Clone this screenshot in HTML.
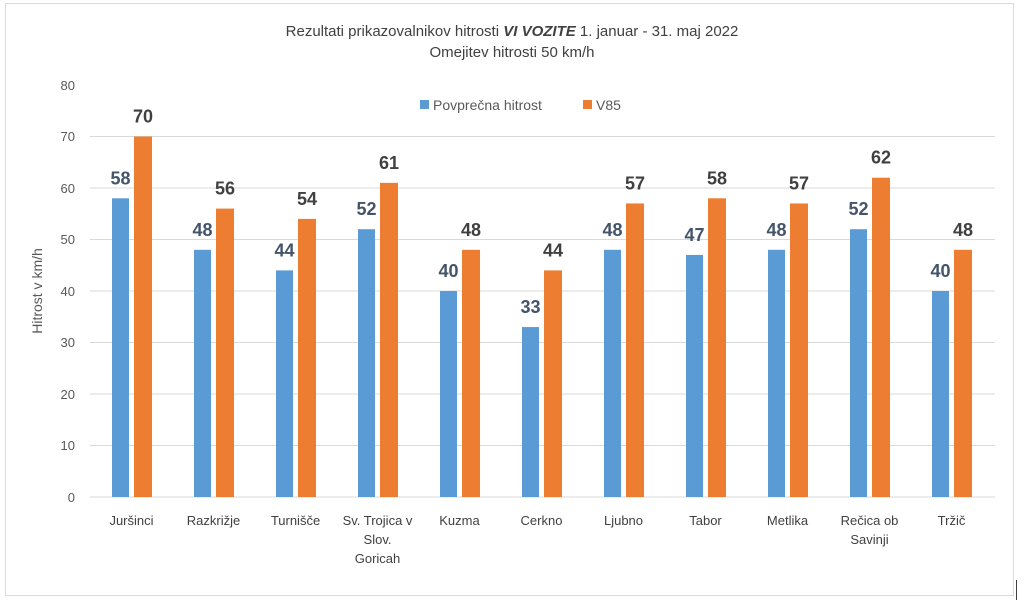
<!DOCTYPE html>
<html><head><meta charset="utf-8"><style>
html,body{margin:0;padding:0;background:#fff;}
svg{display:block;font-family:"Liberation Sans",sans-serif;}
</style></head><body>
<svg width="1024" height="601" viewBox="0 0 1024 601">
<rect x="5.5" y="3.5" width="1008" height="592" fill="#fff" stroke="#d9d9d9" stroke-width="1"/>
<line x1="1016.5" y1="580" x2="1016.5" y2="600" stroke="#404040" stroke-width="1"/>
<text x="512" y="36" text-anchor="middle" font-size="15" fill="#404040">Rezultati prikazovalnikov hitrosti <tspan font-weight="bold" font-style="italic">VI VOZITE</tspan> 1. januar - 31. maj 2022</text>
<text x="512" y="57" text-anchor="middle" font-size="15" fill="#404040">Omejitev hitrosti 50 km/h</text>
<g stroke="#d9d9d9" stroke-width="1">
<line x1="90" x2="995" y1="136.5" y2="136.5"/><line x1="90" x2="995" y1="188" y2="188"/>
<line x1="90" x2="995" y1="239.5" y2="239.5"/><line x1="90" x2="995" y1="291" y2="291"/>
<line x1="90" x2="995" y1="342.5" y2="342.5"/><line x1="90" x2="995" y1="394" y2="394"/>
<line x1="90" x2="995" y1="445.5" y2="445.5"/><line x1="90" x2="995" y1="497" y2="497"/>
</g>
<g font-size="13" fill="#595959" text-anchor="end">
<text x="75" y="90">80</text><text x="75" y="141">70</text><text x="75" y="193">60</text>
<text x="75" y="244">50</text><text x="75" y="296">40</text><text x="75" y="347">30</text>
<text x="75" y="399">20</text><text x="75" y="450">10</text><text x="75" y="502">0</text>
</g>
<text transform="translate(42,291) rotate(-90)" text-anchor="middle" font-size="14" fill="#595959">Hitrost v km/h</text>
<rect x="420" y="100" width="9" height="9" fill="#5b9bd5"/>
<text x="433" y="110" font-size="14" fill="#595959">Povprečna hitrost</text>
<rect x="583" y="100" width="9" height="9" fill="#ed7d31"/>
<text x="596" y="110" font-size="14" fill="#595959">V85</text>
<g id="bars"></g>
<g id="labels" font-size="13" fill="#404040" text-anchor="middle"></g>
</svg>
<script>
var b=[58,48,44,52,40,33,48,47,48,52,40],o=[70,56,54,61,48,44,57,58,57,62,48];
var names=[["Juršinci"],["Razkrižje"],["Turnišče"],["Sv. Trojica v","Slov.","Goricah"],["Kuzma"],["Cerkno"],["Ljubno"],["Tabor"],["Metlika"],["Rečica ob","Savinji"],["Tržič"]];
var s='',l='';
function y(v){return 497-v*5.15;}
for(var i=0;i<11;i++){var c=131.5+82*i;
s+='<rect x="'+(c-19.5)+'" y="'+y(b[i])+'" width="17" height="'+(b[i]*5.15)+'" fill="#5b9bd5"/>';
s+='<rect x="'+(c+2.5)+'" y="'+y(o[i])+'" width="18" height="'+(o[i]*5.15)+'" fill="#ed7d31"/>';
s+='<text x="'+(c-11)+'" y="'+(y(b[i])-14)+'" font-size="18" font-weight="bold" fill="#44546a" text-anchor="middle">'+b[i]+'</text>';
s+='<text x="'+(c+11.5)+'" y="'+(y(o[i])-14)+'" font-size="18" font-weight="bold" fill="#404040" text-anchor="middle">'+o[i]+'</text>';
for(var k=0;k<names[i].length;k++)l+='<text x="'+c+'" y="'+(525+k*19)+'">'+names[i][k]+'</text>';}
document.getElementById('bars').innerHTML=s;document.getElementById('labels').innerHTML=l;
</script>
</body></html>
